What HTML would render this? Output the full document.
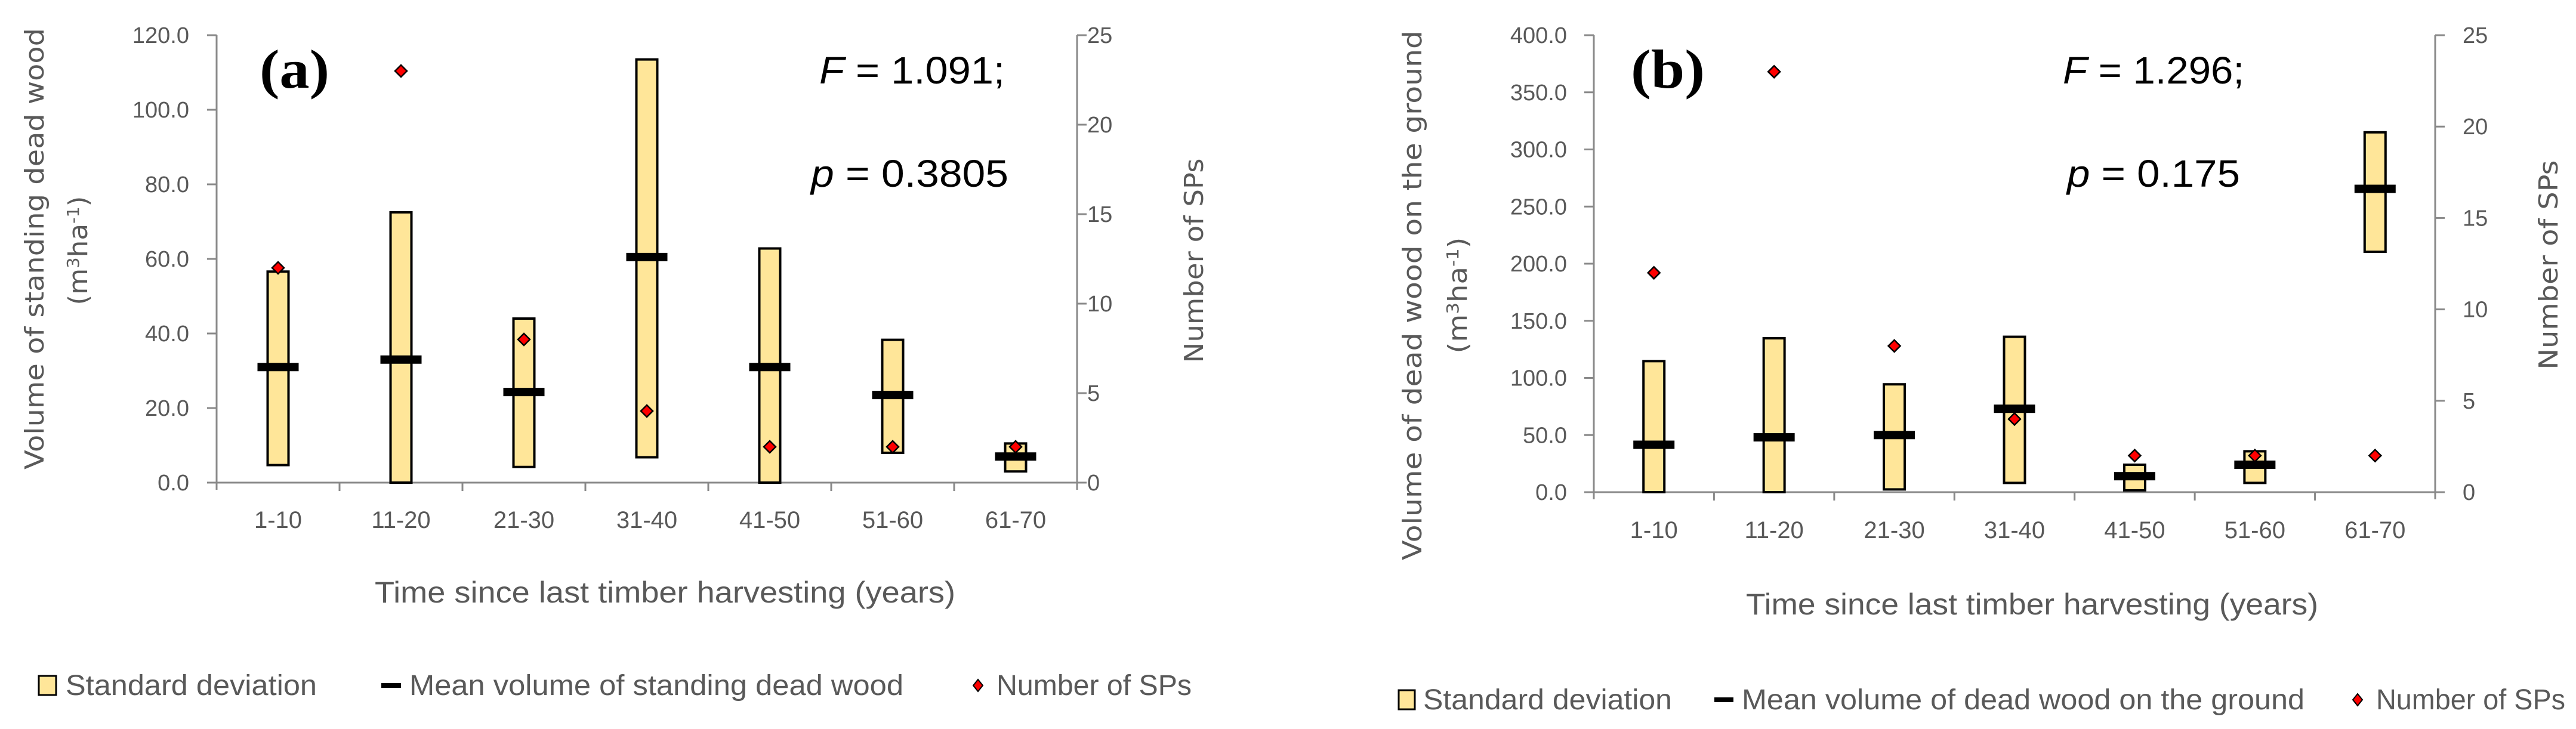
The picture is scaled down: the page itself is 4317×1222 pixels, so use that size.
<!DOCTYPE html>
<html><head><meta charset="utf-8"><style>
html,body{margin:0;padding:0;background:#fff;}
svg{display:block;}
text{fill:#595959;font-family:"Liberation Sans",sans-serif;}
</style></head><body>
<svg id="chart" width="4317" height="1222" viewBox="0 0 4317 1222" xmlns="http://www.w3.org/2000/svg"></svg>
<script>
const categories = ["1-10","11-20","21-30","31-40","41-50","51-60","61-70"];
const aLow  = [4.7, 0, 4.2, 6.8, 0, 8, 3];
const aHigh = [56.6, 72.5, 44, 113.5, 62.8, 38.3, 10.5];
const aMean = [31.0, 33.0, 24.3, 60.5, 31.0, 23.5, 7.0];
const aSps  = [12, 23, 8, 4, 2, 2, 2];
const aTicks = ["0.0","20.0","40.0","60.0","80.0","100.0","120.0"];
const bLow  = [0, 0, 2.4, 8.1, 1.6, 8.1, 210.4];
const bHigh = [114.7, 134.7, 94.4, 136, 24, 35.8, 315];
const bMean = [41.5, 48, 50, 73, 14, 24, 265.5];
const bSps  = [12, 23, 8, 4, 2, 2, 2];
const bTicks = ["0.0","50.0","100.0","150.0","200.0","250.0","300.0","350.0","400.0"];
const rTicks = ["0","5","10","15","20","25"];

const NS="http://www.w3.org/2000/svg";
const svg=document.getElementById('chart');
function mk(tag,attrs,parent,txt){const e=document.createElementNS(NS,tag);for(const k in attrs)e.setAttribute(k,attrs[k]);if(txt!==undefined)e.textContent=txt;(parent||svg).appendChild(e);return e;}

function panel(cfg){
  const g=mk('g',{});
  
  
  const {x0,x1,yTop,yBot,yMax,low,high,mean,sps,ticks}=cfg;
  const n=categories.length, step=(x1-x0)/n;
  const xc=i=>x0+step*(i+0.5);
  const yv=v=>yBot-(v/yMax)*(yBot-yTop);
  const ys=v=>yBot-(v/25)*(yBot-yTop);
  const gray='#898989';
  let e=mk('line',{x1:x0,y1:yTop,x2:x0,y2:yBot+12,stroke:gray,'stroke-width':3},g);
  
  
  e=mk('line',{x1:x1,y1:yTop,x2:x1,y2:yBot+12,stroke:gray,'stroke-width':3},g);
  
  
  e=mk('line',{x1:x0,y1:yBot,x2:x1,y2:yBot,stroke:gray,'stroke-width':3},g);
  
  
  for(let i=1;i<n;i++){mk('line',{x1:x0+step*i,y1:yBot,x2:x0+step*i,y2:yBot+14,stroke:gray,'stroke-width':3},g);}
  ticks.forEach((t,i)=>{
    const v=yMax*i/(ticks.length-1), y=yv(v);
    mk('line',{x1:x0-16,y1:y,x2:x0,y2:y,stroke:gray,'stroke-width':3},g);
    const tx=mk('text',{x:cfg.tickRight,y:y+13,'text-anchor':'end','font-size':38},g,t);
    
    
  });
  rTicks.forEach((t,i)=>{
    const y=ys(i*5);
    mk('line',{x1:x1,y1:y,x2:x1+16,y2:y,stroke:gray,'stroke-width':3},g);
    const tx=mk('text',{x:cfg.rTickLeft,y:y+13,'font-size':38},g,t);
    
    
  });
  categories.forEach((c,i)=>{
    const tx=mk('text',{x:xc(i),y:cfg.catY+14,'text-anchor':'middle','font-size':40},g,c);
    
    
    const r=mk('rect',{x:xc(i)-17.5,y:yv(high[i]),width:35,height:Math.max(0,yv(low[i])-yv(high[i])),fill:'#FFE699',stroke:'#000','stroke-width':4},g);
    
    
    const m=mk('rect',{x:xc(i)-34.5,y:yv(mean[i])-7,width:69,height:14,fill:'#000'},g);
    
    
    const X=xc(i),Y=ys(sps[i]);
    const d=mk('polygon',{points:`${X},${Y-10} ${X+10},${Y} ${X},${Y+10} ${X-10},${Y}`,fill:'#FF0000',stroke:'#000','stroke-width':2.5},g);
    
    
  });
  const dv='font-family:"DejaVu Sans",sans-serif';
  let t=mk('text',{x:(cfg.xtA+cfg.xtB)/2,y:cfg.xtY+17,'text-anchor':'middle','font-size':50,textLength:cfg.xtB-cfg.xtA,lengthAdjust:'spacingAndGlyphs'},g,'Time since last timber harvesting (years)');
  
  
  t=mk('text',{x:0,y:0,'text-anchor':'middle','font-size':44,style:dv,textLength:cfg.yt1Len,lengthAdjust:'spacingAndGlyphs',transform:`translate(${cfg.yt1X+15},${cfg.ytC}) rotate(-90)`},g,cfg.ytitle);
  
  
  t=mk('text',{x:0,y:0,'text-anchor':'middle','font-size':44,style:dv,textLength:cfg.yt2Len,lengthAdjust:'spacingAndGlyphs',transform:`translate(${cfg.yt2X+15},${cfg.ytC2}) rotate(-90)`},g);
  
  
  mk('tspan',{},t,'(m');mk('tspan',{dy:-14,'font-size':28},t,'3');mk('tspan',{dy:14},t,'ha');mk('tspan',{dy:-14,'font-size':28},t,'-1');mk('tspan',{dy:14},t,')');
  t=mk('text',{x:0,y:0,'text-anchor':'middle','font-size':44,style:dv,textLength:cfg.rtLen,lengthAdjust:'spacingAndGlyphs',transform:`translate(${cfg.rtX+15},${cfg.rtC}) rotate(-90)`},g,'Number of SPs');
  
  
  t=mk('text',{x:cfg.lblA,y:117+30,'font-size':92,'font-weight':'bold',textLength:cfg.lblB-cfg.lblA,lengthAdjust:'spacingAndGlyphs',style:'fill:#000;font-family:"Liberation Serif",serif'},g,cfg.label);
  
  
  t=mk('text',{x:cfg.fA,y:117+23,'font-size':64,textLength:cfg.fB-cfg.fA,lengthAdjust:'spacingAndGlyphs',style:'fill:#000'},g);
  
  
  mk('tspan',{'font-style':'italic'},t,'F');mk('tspan',{},t,' = '+cfg.F+';');
  t=mk('text',{x:cfg.pA,y:290+23,'font-size':64,textLength:cfg.pB-cfg.pA,lengthAdjust:'spacingAndGlyphs',style:'fill:#000'},g);
  
  
  mk('tspan',{'font-style':'italic'},t,'p');mk('tspan',{},t,' = '+cfg.p);
  const L=cfg.leg, ly=L.y;
  let s=mk('rect',{x:L.sq,y:ly-16,width:L.sqw,height:32,fill:'#FFE699',stroke:'#000','stroke-width':3},g);
  
  
  t=mk('text',{x:L.t1a,y:ly+16,'font-size':48,textLength:L.t1b-L.t1a,lengthAdjust:'spacingAndGlyphs'},g,'Standard deviation');
  
  
  s=mk('rect',{x:L.da,y:ly-4,width:L.db-L.da,height:8,fill:'#000'},g);
  
  
  t=mk('text',{x:L.t2a,y:ly+16,'font-size':48,textLength:L.t2b-L.t2a,lengthAdjust:'spacingAndGlyphs'},g,L.meanText);
  
  
  s=mk('polygon',{points:`${L.dm},${ly-10} ${L.dm+8},${ly} ${L.dm},${ly+10} ${L.dm-8},${ly}`,fill:'#f00',stroke:'#000','stroke-width':2},g);
  
  
  t=mk('text',{x:L.t3a,y:ly+16,'font-size':48,textLength:L.t3b-L.t3a,lengthAdjust:'spacingAndGlyphs'},g,'Number of SPs');
  
  
}

panel({name:'panel-a',x0:363,x1:1805,yTop:59,yBot:809,yMax:120,low:aLow,high:aHigh,mean:aMean,sps:aSps,ticks:aTicks,
  tickRight:317,rTickLeft:1822,catY:871,xtA:628,xtB:1601,xtY:993,
  ytitle:'Volume of standing dead wood',yt1X:58,yt1Len:740,ytC:417,yt2X:131,yt2Len:183,ytC2:420,
  rtX:2001,rtLen:343,rtC:437,label:'(a)',lblA:435,lblB:552,F:'1.091',fA:1373,fB:1684,p:'0.3805',pA:1359,pB:1690,
  leg:{y:1149,sq:65,sqw:29,t1a:110,t1b:531,da:639,db:672,t2a:686,t2b:1514,meanText:'Mean volume of standing dead wood',dm:1639,t3a:1670,t3b:1997}});
panel({name:'panel-b',x0:2671,x1:4081,yTop:59,yBot:825,yMax:400,low:bLow,high:bHigh,mean:bMean,sps:bSps,ticks:bTicks,
  tickRight:2626,rTickLeft:4127,catY:888,xtA:2926,xtB:3885,xtY:1013,
  ytitle:'Volume of dead wood on the ground',yt1X:2367,yt1Len:888,ytC:495,yt2X:2443,yt2Len:195,ytC2:495,
  rtX:4271,rtLen:351,rtC:444,label:'(b)',lblA:2733,lblB:2857,F:'1.296',fA:3457,fB:3761,p:'0.175',pA:3464,pB:3754,
  leg:{y:1173,sq:2344,sqw:27,t1a:2385,t1b:2802,da:2873,db:2905,t2a:2919,t2b:3862,meanText:'Mean volume of dead wood on the ground',dm:3951,t3a:3982,t3b:4299}});
</script>
</body></html>
